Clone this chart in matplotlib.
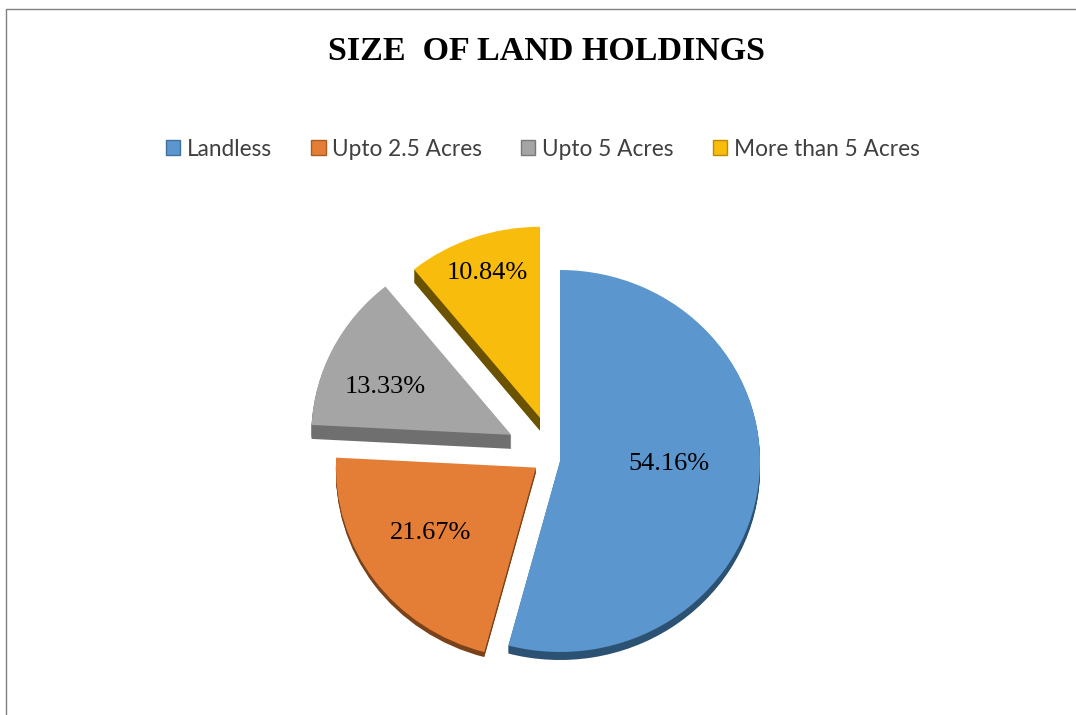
import matplotlib
matplotlib.use('Agg')
import matplotlib.pyplot as plt
from matplotlib.patches import Patch

W, H = 1076, 715

categories = ['Landless', 'Upto 2.5 Acres', 'Upto 5 Acres', 'More than 5 Acres']
values = [54.16, 21.67, 13.33, 10.84]
explode = [0, 0.13, 0.29, 0.24]
colors = ['#5B96CE', '#E47D36', '#A5A5A5', '#F8BC0C']
side_colors = ['#2B5273', '#7A421A', '#6F6F6F', '#6B5200']
edge_colors = ['#41719C', '#AE5A21', '#787878', '#BC8C00']
depth = [8, 5, 14, 13]      # pixels of the 3d side per slice
label_dist = [0.55, 0.6, 0.65, 0.8]
nudge = [(0, 0), (-3, -8), (3, -1), (-4, 0)]          # pixels, x right y up is negative
label_nudge = [(0, -11), (-8, -2), (-10, 8), (1, -1)]

# pie centre and radius in pixels, slight tilt
cx, cy, rx, ry = 560, 461, 200, 191

fig = plt.figure(figsize=(W / 100, H / 100), dpi=100)
ax = fig.add_axes([0, 0, 1, 1])


def shift(wedge, dx, dy):
    x0, y0 = wedge.center
    wedge.set_center((x0 + dx / rx, y0 - dy / ry))


# stacked copies for the 3d side
for d in range(max(depth), 0, -1):
    cols = [side_colors[i] if d <= depth[i] else 'none' for i in range(4)]
    side, _ = ax.pie(values, explode=explode, colors=cols, startangle=90, counterclock=False,
                     center=(0, -d / ry), wedgeprops={'linewidth': 0})
    for w, n in zip(side, nudge):
        shift(w, n[0], n[1])

wedges, texts, autotexts = ax.pie(values, explode=explode, colors=colors, startangle=90,
                                  counterclock=False, autopct='%.2f%%', pctdistance=1.0,
                                  wedgeprops={'linewidth': 0},
                                  textprops={'family': 'Liberation Serif', 'fontsize': 19, 'color': 'black'})

for t, w, dist, n, ln in zip(autotexts, wedges, label_dist, nudge, label_nudge):
    x0, y0 = w.center
    x, y = t.get_position()
    t.set_position((x0 + (x - x0) * dist + (n[0] + ln[0]) / rx,
                    y0 + (y - y0) * dist - (n[1] + ln[1]) / ry))
    t.set_zorder(20)
    shift(w, n[0], n[1])

ax.set_aspect('auto')
ax.set_xlim(-cx / rx, (W - cx) / rx)
ax.set_ylim(-(H - cy) / ry, cy / ry)
ax.set_axis_off()

fig.text(546 / W, 1 - 51 / H, 'SIZE  OF LAND HOLDINGS', family='Liberation Serif',
         fontweight='bold', fontsize=24.5, ha='center', va='center', color='black')

handles = [Patch(facecolor=c, edgecolor=e, linewidth=1) for c, e in zip(colors, edge_colors)]
fig.legend(handles, categories, loc='center', bbox_to_anchor=(543 / W, 1 - 149 / H), ncol=4,
           frameon=False, prop={'family': 'Lato', 'size': 16.3}, labelcolor='#404040',
           handlelength=0.62, handleheight=0.62, handletextpad=0.3, columnspacing=1.73,
           borderpad=0)

# picture frame, only top and left show
fig.add_artist(plt.Line2D([5.5 / W, 5.5 / W, 1], [0, 1 - 8.5 / H, 1 - 8.5 / H], color='#808080', lw=1))

fig.savefig('out.png', dpi=100)
